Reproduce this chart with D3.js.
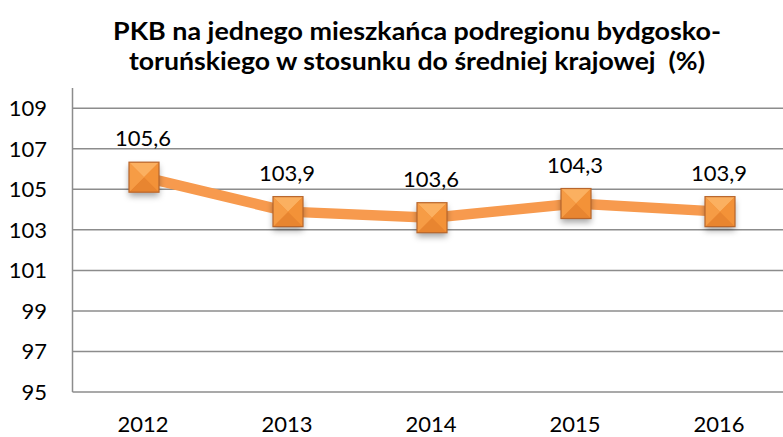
<!DOCTYPE html>
<html><head><meta charset="utf-8">
<script src="https://cdn.jsdelivr.net/npm/d3@7"></script>
<style>html,body{margin:0;padding:0;background:#fff;}svg{display:block;}</style>
</head><body>
<svg id="chart" width="783" height="437"></svg>
<script>
const years = ["2012","2013","2014","2015","2016"];
const values = [105.6, 103.9, 103.6, 104.3, 103.9];
const valueLabels = ["105,6","103,9","103,6","104,3","103,9"];
const yTicks = [95,97,99,101,103,105,107,109];
const titleLines = ["PKB na jednego mieszkańca podregionu bydgosko-","toruńskiego w stosunku do średniej krajowej  (%)"];

(function(){
const svg = d3.select("#chart");
const font = "Lato, 'Open Sans', sans-serif";
const pLeft = 72.5, pTop = 88, pBottom = 392;

const x = d3.scaleBand().domain(years).range([72, 792]);
const y = d3.scaleLinear().domain([95, 110]).range([pBottom, pTop]);

const defs = svg.append("defs");
const f = defs.append("filter").attr("id","sh").attr("x","-50%").attr("y","-50%").attr("width","200%").attr("height","200%");
f.append("feDropShadow").attr("dx",0).attr("dy",4).attr("stdDeviation",3).attr("flood-color","#000").attr("flood-opacity",0.35);

// title
svg.append("g").selectAll("text").data(titleLines).join("text")
  .attr("x", 417).attr("y", (d,i)=> 40 + i*30)
  .attr("text-anchor","middle")
  .style("white-space","pre")
  .attr("font-family", font).attr("font-weight","bold").attr("font-size", 24)
  .attr("fill","#000")
  .attr("textLength", (d,i)=> i===0 ? 608 : 576)
  .attr("lengthAdjust","spacingAndGlyphs")
  .text(d=>d);

// gridlines
svg.append("g").selectAll("line").data(yTicks).join("line")
  .attr("x1", pLeft).attr("x2", 783)
  .attr("y1", d=>y(d)).attr("y2", d=>y(d))
  .attr("stroke","#8c8c8c").attr("stroke-width",1.5);

// y axis line
svg.append("line").attr("x1",pLeft).attr("x2",pLeft).attr("y1",pTop).attr("y2",pBottom)
  .attr("stroke","#8c8c8c").attr("stroke-width",1.5);

// y tick labels
svg.append("g").selectAll("text").data(yTicks).join("text")
  .attr("x", 47).attr("y", d=>y(d)+8)
  .attr("text-anchor","end")
  .attr("font-family", font).attr("font-size", 22).attr("fill","#000")
  .text(d=>d);

// x labels
svg.append("g").selectAll("text").data(years).join("text")
  .attr("x", d=>x(d)+x.bandwidth()/2 - 1).attr("y", 432)
  .attr("text-anchor","middle")
  .attr("font-family", font).attr("font-size", 22).attr("fill","#000")
  .text(d=>d);

const pts = years.map((d,i)=>({year:d, v:values[i], lab:valueLabels[i]}));
const cx = d=> x(d.year)+x.bandwidth()/2;

// line
svg.append("path").datum(pts)
  .attr("d", d3.line().x(cx).y(d=>y(d.v)))
  .attr("fill","none").attr("stroke","#F79A4E").attr("stroke-width",10.5)
  .attr("stroke-linejoin","round");

// markers
const s = 15;
const mg = svg.append("g").selectAll("g").data(pts).join("g")
  .attr("transform", d=>`translate(${cx(d)},${y(d.v)})`);
mg.append("rect").attr("x",-s).attr("y",-s).attr("width",2*s).attr("height",2*s)
  .attr("fill","#F4923A").attr("filter","url(#sh)");
const faces = [
  {p:[[-s,-s],[s,-s],[0,0]], c:"#FBB060"},
  {p:[[s,-s],[s,s],[0,0]], c:"#F39238"},
  {p:[[s,s],[-s,s],[0,0]], c:"#E88530"},
  {p:[[-s,s],[-s,-s],[0,0]], c:"#F69C45"}
];
faces.forEach(fc=>{
  mg.append("path").attr("d", d3.line()(fc.p)+"Z").attr("fill", fc.c);
});
mg.append("rect").attr("x",-s).attr("y",-s).attr("width",2*s).attr("height",2*s)
  .attr("fill","none").attr("stroke","#B8662C").attr("stroke-width",1.2);

// value labels
svg.append("g").selectAll("text").data(pts).join("text")
  .attr("x", d=>cx(d)-1).attr("y", d=>y(d.v)-31)
  .attr("text-anchor","middle")
  .attr("font-family", font).attr("font-size", 22).attr("fill","#000")
  .text(d=>d.lab);
})();
</script>
</body></html>
